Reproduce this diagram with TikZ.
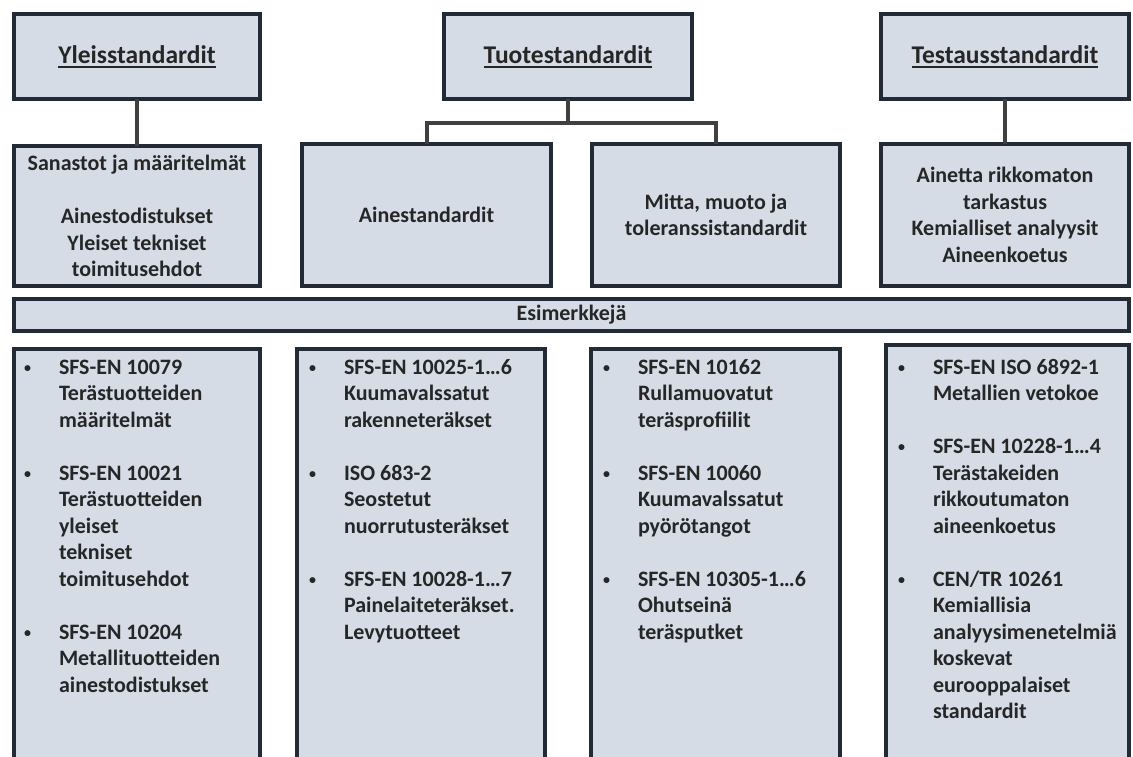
\documentclass[tikz,border=0pt]{standalone}
\usepackage{fontspec}
\setmainfont{Carlito}
\definecolor{fillc}{HTML}{D6DCE5}
\definecolor{bordc}{HTML}{222A35}
\definecolor{connc}{HTML}{404040}
\definecolor{txtc}{HTML}{262626}
\newcommand\mybul{\makebox[37pt][l]{\hspace*{2pt}\raisebox{2pt}{\fontsize{14}{14}\selectfont•}}}
\newcommand\myind{\hspace*{37pt}}
\newcommand\myul[1]{\raisebox{-3pt}{\setbox0\hbox{#1}\rlap{\rule[-4.5pt]{\wd0}{1.4pt}}\box0}}
\newcommand\mystrut{\rule{0pt}{20pt}}
\begin{document}
\begin{tikzpicture}[x=1pt,y=-1pt,
  txt/.style={text=txtc, font=\bfseries\fontsize{22}{26.5}\selectfont},
  box/.style={txt, draw=bordc, fill=fillc, line width=4pt, inner sep=0pt, outer sep=0pt, align=center},
  head/.style={box, font=\bfseries\fontsize{25.5}{30}\selectfont},
  list/.style={txt, inner sep=0pt, outer sep=0pt, anchor=north west, align=left},
  conn/.style={draw=connc, line width=4pt}]
\useasboundingbox (0,0) rectangle (1133,756);
% top boxes
\node[head, minimum width=246pt, minimum height=85pt] (yl) at (137,56.5) {\myul{Yleisstandardit}};
\node[head, minimum width=248pt, minimum height=85pt] (tu) at (568,56.5) {\myul{Tuotestandardit}};
\node[head, minimum width=248pt, minimum height=85pt] (te) at (1005,56.5) {\myul{Testausstandardit}};
% second row
\node[box, minimum width=246pt, minimum height=140pt] (sa) at (137,216) {Sanastot ja määritelmät\\[26.5pt]Ainestodistukset\\Yleiset tekniset\\toimitusehdot};
\node[box, minimum width=249pt, minimum height=142pt] (ai) at (426.5,215) {Ainestandardit};
\node[box, minimum width=248pt, minimum height=142pt] (mi) at (716,215) {Mitta, muoto ja\\toleranssistandardit};
\node[box, minimum width=248pt, minimum height=142pt] (at) at (1005,215) {Ainetta rikkomaton\\tarkastus\\Kemialliset analyysit\\Aineenkoetus};
% bar
\node[box, minimum width=1115pt, minimum height=32pt] (es) at (571.5,315) {Esimerkkejä};
% bottom boxes
\node[box, anchor=north west, minimum width=246pt, minimum height=460pt] (b1) at (14,349) {};
\node[box, anchor=north west, minimum width=248pt, minimum height=460pt] (b2) at (297,349) {};
\node[box, anchor=north west, minimum width=249pt, minimum height=460pt] (b3) at (591,349) {};
\node[box, anchor=north west, minimum width=243pt, minimum height=460pt] (b4) at (886,345) {};
% lists
\node[list] (t1) at (22,354) {\mystrut\mybul SFS-EN 10079\\\myind Terästuotteiden\\\myind määritelmät\\[26.5pt]
\mybul SFS-EN 10021\\\myind Terästuotteiden\\\myind yleiset\\\myind tekniset\\\myind toimitusehdot\\[26.5pt]
\mybul SFS-EN 10204\\\myind Metallituotteiden\\\myind ainestodistukset};
\node[list] (t2) at (307,354) {\mystrut\mybul SFS-EN 10025-1…6\\\myind Kuumavalssatut\\\myind rakenneteräkset\\[26.5pt]
\mybul ISO 683-2\\\myind Seostetut\\\myind nuorrutusteräkset\\[26.5pt]
\mybul SFS-EN 10028-1…7\\\myind Painelaiteteräkset.\\\myind Levytuotteet};
\node[list] (t3) at (601,354) {\mystrut\mybul SFS-EN 10162\\\myind Rullamuovatut\\\myind teräsprofiilit\\[26.5pt]
\mybul SFS-EN 10060\\\myind Kuumavalssatut\\\myind pyörötangot\\[26.5pt]
\mybul SFS-EN 10305-1…6\\\myind Ohutseinä\\\myind teräsputket};
\node[list] (t4) at (896,354) {\mystrut\mybul SFS-EN ISO 6892-1\\\myind Metallien vetokoe\\[26.5pt]
\mybul SFS-EN 10228-1…4\\\myind Terästakeiden\\\myind rikkoutumaton\\\myind aineenkoetus\\[26.5pt]
\mybul CEN/TR 10261\\\myind Kemiallisia\\\myind analyysimenetelmiä\\\myind koskevat\\\myind eurooppalaiset\\\myind standardit};
% connectors
\draw[conn] (yl.south) -- (sa.north);
\draw[conn] (te.south) -- (at.north);
\coordinate (tj) at (568,123);
\draw[conn] (tu.south) -- (tj);
\draw[conn] (tj) -| (ai.north);
\draw[conn] (tj) -| (mi.north);
\end{tikzpicture}
\end{document}
